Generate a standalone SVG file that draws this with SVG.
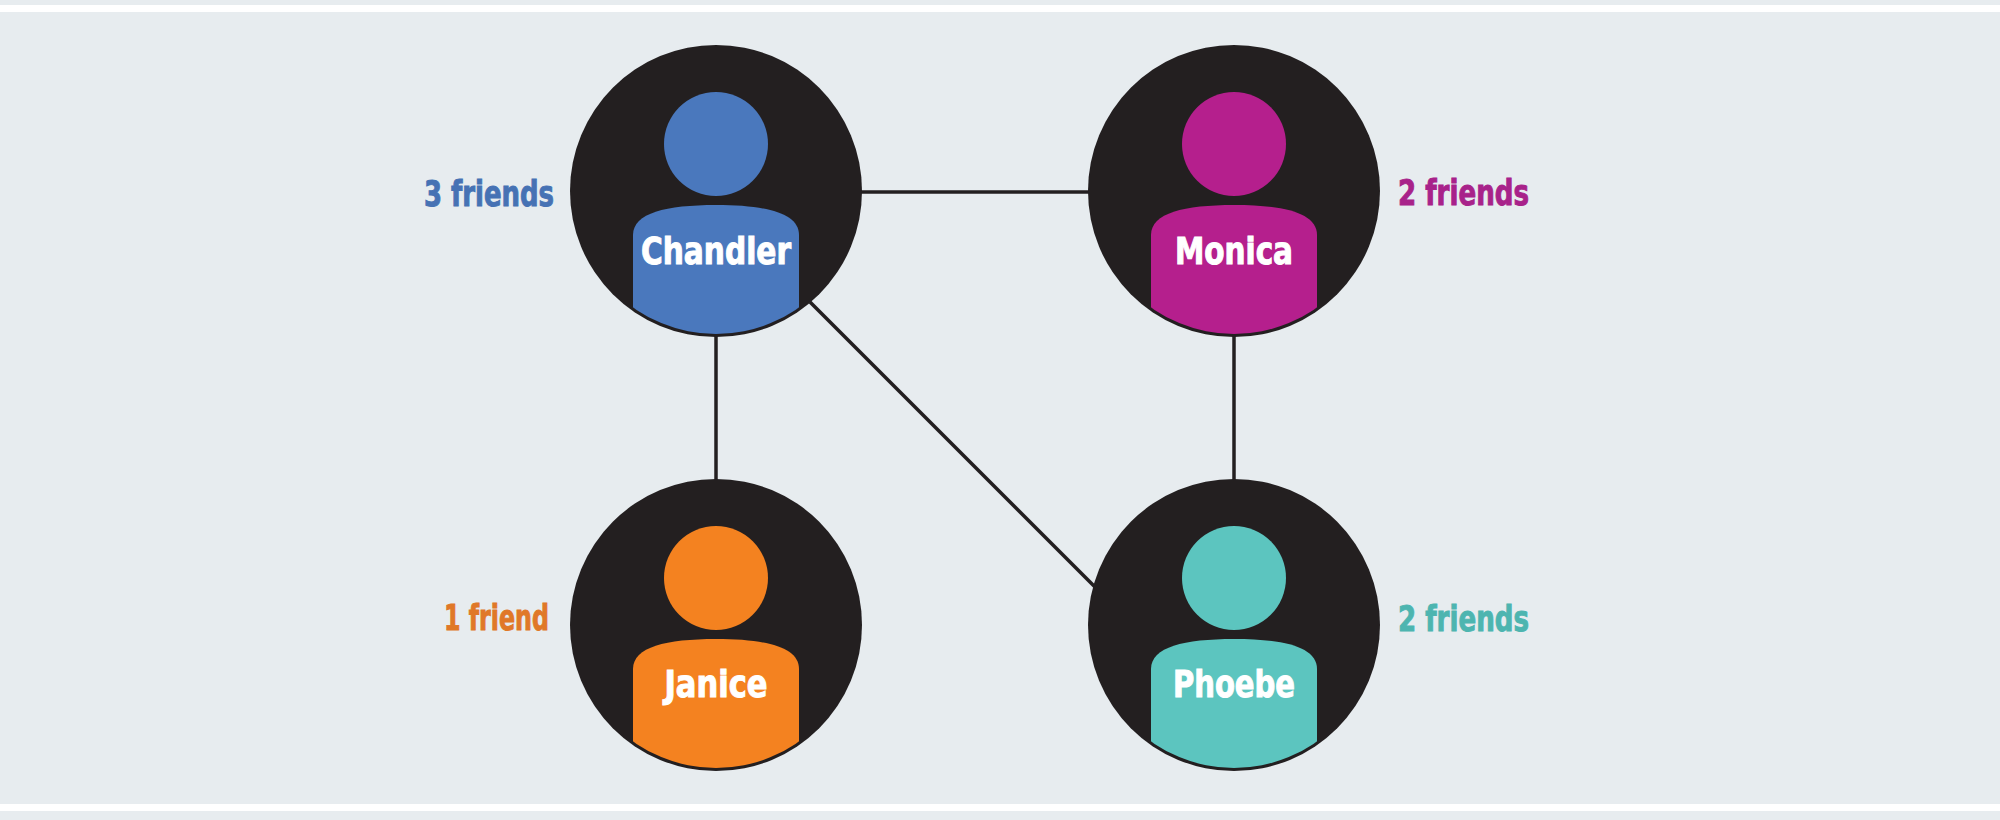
<svg xmlns="http://www.w3.org/2000/svg" xmlns:xlink="http://www.w3.org/1999/xlink" width="2000" height="820" viewBox="0 0 2000 820">
  <style>
    .disc { fill: #231f20; }
    .name { font-family: "Liberation Sans Narrow", "DejaVu Sans Condensed", "Liberation Sans", sans-serif; font-weight: bold; font-size: 38px; fill: #ffffff; stroke: #ffffff; stroke-width: 1; text-anchor: middle; }
    .count { font-family: "Liberation Sans Narrow", "DejaVu Sans Condensed", "Liberation Sans", sans-serif; font-weight: bold; font-size: 35px; stroke-width: 0.9; }
    .edge { stroke: #231f20; stroke-width: 3.5; fill: none; }
  </style>
  <defs>
    <clipPath id="inner" clipPathUnits="userSpaceOnUse">
      <circle cx="0" cy="0" r="143"/>
    </clipPath>
    <path id="body" d="M-83,44 C-83,22 -50,14 0,14 C50,14 83,22 83,44 V170 H-83 Z"/>
  </defs>

  <rect x="0" y="0" width="2000" height="820" fill="#e7ecef"/>
  <rect x="0" y="5" width="2000" height="7" fill="#ffffff"/>
  <rect x="0" y="804" width="2000" height="7" fill="#ffffff"/>

  <g id="connectors">
    <line class="edge" x1="860" y1="192" x2="1090" y2="192"/>
    <line class="edge" x1="716" y1="335" x2="716" y2="481"/>
    <line class="edge" x1="1234" y1="335" x2="1234" y2="481"/>
    <line class="edge" x1="810" y1="302" x2="1095" y2="587"/>
  </g>

  <g id="chandler" transform="translate(716,191)">
    <circle class="disc" cx="0" cy="0" r="146"/>
    <circle cx="0" cy="-47" r="52" fill="#4a78bd"/>
    <use xlink:href="#body" href="#body" fill="#4a78bd" clip-path="url(#inner)"/>
    <text class="name" x="0" y="73" textLength="150" lengthAdjust="spacingAndGlyphs">Chandler</text>
  </g>
  <text class="count" x="554" y="206" text-anchor="end" fill="#4672b4" stroke="#4672b4" textLength="130" lengthAdjust="spacingAndGlyphs">3 friends</text>

  <g id="monica" transform="translate(1234,191)">
    <circle class="disc" cx="0" cy="0" r="146"/>
    <circle cx="0" cy="-47" r="52" fill="#b51f8d"/>
    <use xlink:href="#body" href="#body" fill="#b51f8d" clip-path="url(#inner)"/>
    <text class="name" x="0" y="73" textLength="118" lengthAdjust="spacingAndGlyphs">Monica</text>
  </g>
  <text class="count" x="1398" y="205" fill="#a8228a" stroke="#a8228a" textLength="131" lengthAdjust="spacingAndGlyphs">2 friends</text>

  <g id="janice" transform="translate(716,625)">
    <circle class="disc" cx="0" cy="0" r="146"/>
    <circle cx="0" cy="-47" r="52" fill="#f48220"/>
    <use xlink:href="#body" href="#body" fill="#f48220" clip-path="url(#inner)"/>
    <text class="name" x="0" y="72" textLength="103" lengthAdjust="spacingAndGlyphs">Janice</text>
  </g>
  <text class="count" x="549" y="630" text-anchor="end" fill="#e07828" stroke="#e07828" textLength="105" lengthAdjust="spacingAndGlyphs">1 friend</text>

  <g id="phoebe" transform="translate(1234,625)">
    <circle class="disc" cx="0" cy="0" r="146"/>
    <circle cx="0" cy="-47" r="52" fill="#5cc5bf"/>
    <use xlink:href="#body" href="#body" fill="#5cc5bf" clip-path="url(#inner)"/>
    <text class="name" x="0" y="72" textLength="122" lengthAdjust="spacingAndGlyphs">Phoebe</text>
  </g>
  <text class="count" x="1398" y="631" fill="#4db5b0" stroke="#4db5b0" textLength="131" lengthAdjust="spacingAndGlyphs">2 friends</text>
</svg>
